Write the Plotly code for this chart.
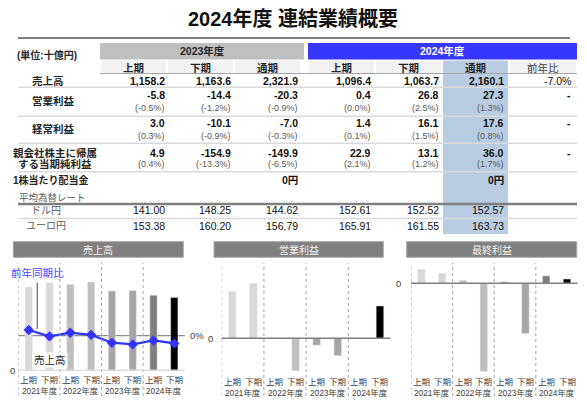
import plotly.graph_objects as go

W, H = 587, 416
FONT = "Liberation Sans, Noto Sans CJK JP, sans-serif"

# ---- table data ----
periods = ["上期", "下期", "通期"]
sales_fy23 = [1158.2, 1163.6, 2321.9]
sales_fy24 = [1096.4, 1063.7, 2160.1]
sales_yoy = "-7.0%"
op_fy23 = [-5.8, -14.4, -20.3]
op_pct_fy23 = [-0.5, -1.2, -0.9]
op_fy24 = [0.4, 26.8, 27.3]
op_pct_fy24 = [0.0, 2.5, 1.3]
ord_fy23 = [3.0, -10.1, -7.0]
ord_pct_fy23 = [0.3, -0.9, -0.3]
ord_fy24 = [1.4, 16.1, 17.6]
ord_pct_fy24 = [0.1, 1.5, 0.8]
net_fy23 = [4.9, -154.9, -149.9]
net_pct_fy23 = [0.4, -13.3, -6.5]
net_fy24 = [22.9, 13.1, 36.0]
net_pct_fy24 = [2.1, 1.2, 1.7]
dividend = ["", "", "0円", "", "", "0円"]
usd_jpy = [141.00, 148.25, 144.62, 152.61, 152.52, 152.57]
eur_jpy = [153.38, 160.20, 156.79, 165.91, 161.55, 163.73]

# ---- chart data (half years FY2021-FY2024) ----
half_labels = ["上期", "下期"] * 4
year_labels = ["2021年度", "2022年度", "2023年度", "2024年度"]
sales_half = [1216, 1277, 1256, 1289, 1158.2, 1163.6, 1096.4, 1063.7]
sales_yoy_pct = [6.3, -0.8, 3.3, 0.9, -7.8, -9.7, -5.3, -8.6]
op_half = [39.0, 45.6, 0.5, -26.9, -5.8, -14.4, 0.4, 26.8]
net_half = [43, 31, 9, -272, 4.9, -154.9, 22.9, 13.1]
bar_colors = ["#d9d9d9", "#d9d9d9", "#bfbfbf", "#bfbfbf",
              "#a6a6a6", "#a6a6a6", "#7f7f7f", "#000000"]


def px(x):
    return x / W


def py(y):
    return 1 - y / H


ann = []
shapes = []


def text(x, y, s, size=10, color="#000", bold=False, anchor="center", **kw):
    if bold:
        s = f"<b>{s}</b>"
    ann.append(dict(x=px(x), y=py(y), xref="paper", yref="paper", text=s,
                    showarrow=False, xanchor=anchor, yanchor="middle",
                    font=dict(size=size, color=color, family=FONT), **kw))


def rect(x0, y0, x1, y1, fill, line=None):
    shapes.append(dict(type="rect", xref="paper", yref="paper", x0=px(x0), x1=px(x1),
                       y0=py(y0), y1=py(y1), fillcolor=fill, layer="below",
                       line=dict(width=1 if line else 0, color=line or fill)))


def hline(x0, x1, y, color, width=1.5):
    shapes.append(dict(type="line", xref="paper", yref="paper", x0=px(x0), x1=px(x1),
                       y0=py(y), y1=py(y), line=dict(color=color, width=width)))


# ---- title ----
text(293, 19, "2024年度 連結業績概要", size=20, color="#111", bold=True)
hline(18, 570, 38, "#7f7f7f", 2)

# ---- table frame ----
col_left = [100, 167, 234, 308, 375, 442, 509]
col_right = [167, 234, 301, 375, 442, 509, 577]
num_right = [166.5, 233, 300, 373, 440.5, 506.5, 573]

rect(100, 43, 304, 59.5, "#bfbfbf")
rect(308, 43, 577, 59.5, "#3636ff")
text(202, 51, "2023年度", size=10.5, color="#262626", bold=True)
text(442, 51, "2024年度", size=10.5, color="#fff", bold=True)
text(47.5, 55, "(単位:十億円)", size=10, color="#262626", bold=True)

for i in range(7):
    rect(col_left[i] + 1, 60.5, col_right[i] - 1, 73, "#f2f2f2")
rect(443, 60.5, 508, 234, "#b8cce4")
for i in range(6):
    text((col_left[i] + col_right[i]) / 2, 67.5, periods[i % 3], size=10.5,
         color="#262626", bold=True)
text((col_left[6] + col_right[6]) / 2, 67.5, "前年比", size=10.5, color="#404040")
hline(100, 577, 73.5, "#a6a6a6", 1.2)

for y in (87.3, 116.3, 143.3, 171.7, 218.5):
    hline(18, 577, y, "#d9d9d9", 1.5)
hline(18, 577, 204, "#7f7f7f", 2.5)


def row_values(vals23, vals24, y, bold=True, size=10.5, color="#111", fmt="{:,.1f}"):
    for i, v in enumerate(list(vals23) + list(vals24)):
        s = v if isinstance(v, str) else fmt.format(v)
        if s:
            text(num_right[i], y, s, size=size, color=color, bold=bold, anchor="right")


def pct_values(p23, p24, y):
    row_values(p23, p24, y, bold=False, size=9, color="#595959", fmt="({:.1f}%)")


LBL = 10.5
text(48, 80.7, "売上高", size=LBL, color="#262626", bold=True)
row_values(sales_fy23, sales_fy24, 80.7)
text(num_right[6], 80.7, sales_yoy, size=10.5, color="#111", anchor="right")

text(53, 101.5, "営業利益", size=LBL, color="#262626", bold=True)
row_values(op_fy23, op_fy24, 95)
pct_values(op_pct_fy23, op_pct_fy24, 108.3)
text(num_right[6], 95, "-", size=10.5, bold=True, anchor="right")

text(53, 129.5, "経常利益", size=LBL, color="#262626", bold=True)
row_values(ord_fy23, ord_fy24, 123)
pct_values(ord_pct_fy23, ord_pct_fy24, 135.7)
text(num_right[6], 123, "-", size=10.5, bold=True, anchor="right")

text(55, 152.7, "親会社株主に帰属", size=LBL, color="#262626", bold=True)
text(55, 164, "する当期純利益", size=LBL, color="#262626", bold=True)
row_values(net_fy23, net_fy24, 152.7)
pct_values(net_pct_fy23, net_pct_fy24, 164)
text(num_right[6], 152.7, "-", size=10.5, bold=True, anchor="right")

text(51, 180, "1株当たり配当金", size=10, color="#262626", bold=True)
row_values(dividend[:3], dividend[3:], 180)

text(52, 197, "平均為替レート", size=9.5, color="#595959")
text(46, 210, "ドル円", size=10, color="#595959")
row_values(usd_jpy[:3], usd_jpy[3:], 210, bold=False, size=10.5, fmt="{:.2f}")
text(46, 226, "ユーロ円", size=10, color="#595959")
row_values(eur_jpy[:3], eur_jpy[3:], 226, bold=False, size=10.5, fmt="{:.2f}")

# ---- charts ----
fig = go.Figure()
xs = list(range(8))
fig.add_trace(go.Bar(x=xs, y=sales_half, marker_color=bar_colors, width=0.35,
                     xaxis="x", yaxis="y"))
fig.add_trace(go.Scatter(x=xs, y=sales_yoy_pct, mode="lines+markers", xaxis="x", yaxis="y2",
                         line=dict(color="#3333ff", width=2.2),
                         marker=dict(symbol="diamond", size=8, color="#3333ff")))
fig.add_trace(go.Bar(x=xs, y=op_half, marker_color=bar_colors, width=0.36,
                     xaxis="x3", yaxis="y3"))
fig.add_trace(go.Bar(x=xs, y=net_half, marker_color=bar_colors, width=0.36,
                     xaxis="x4", yaxis="y4"))

panels = [
    # xaxis, yaxis, x-left, x-right, y-bottom, title, header x0/x1, label y, y range
    ("x", "y", 18.3, 184.7, 370.7, "売上高", 13.3, 183.3, 379.5, [0, 1564]),
    ("x3", "y3", 221.7, 390.5, 372, "営業利益", 214, 383.3, 381.5, [-27.9, 62.4]),
    ("x4", "y4", 411, 577.4, 375, "最終利益", 406.7, 576.7, 381.5, [-282.4, 62.5]),
]

axis_common = dict(showgrid=False, zeroline=False, showticklabels=False, showline=False,
                   fixedrange=True)
layout_axes = {}
for xa, ya, xl, xr, yb, title, h0, h1, ly, yr in panels:
    xkey = "xaxis" if xa == "x" else "xaxis" + xa[1:]
    ykey = "yaxis" if ya == "y" else "yaxis" + ya[1:]
    layout_axes[xkey] = dict(domain=[px(xl), px(xr)], range=[-0.5, 7.5], anchor=ya,
                             **axis_common)
    layout_axes[ykey] = dict(domain=[py(yb), py(263)], range=yr, anchor=xa, **axis_common)
    # header box
    rect(h0, 241.7, h1, 257.3, "#808080", "#a6a6a6")
    text((h0 + h1) / 2, 249.5, title, size=10, color="#f2f2f2")
    # dotted year separators
    for k in range(4):
        shapes.append(dict(type="line", xref=xa, yref="paper", x0=2 * k - 0.5, x1=2 * k - 0.5,
                           y0=py(396), y1=py(263),
                           line=dict(color="#a6a6a6", width=1, dash="dot")))
    # half / year labels
    for i, lab in enumerate(half_labels):
        ann.append(dict(x=i, y=py(ly), xref=xa, yref="paper", text=lab, showarrow=False,
                        yanchor="middle",
                        font=dict(size=8.5, color="#404040", family=FONT)))
    for k, lab in enumerate(year_labels):
        ann.append(dict(x=2 * k + 0.5, y=py(ly + 11), xref=xa, yref="paper", text=lab,
                        showarrow=False, yanchor="middle",
                        font=dict(size=8.3, color="#404040", family=FONT)))

layout_axes["yaxis2"] = dict(domain=[py(370.7), py(263)], range=[-38.9, 80.7],
                             overlaying="y", anchor="x", **axis_common)

# baselines / zero lines
shapes.append(dict(type="line", xref="x domain", yref="y", x0=0, x1=1, y0=0, y1=0,
                   line=dict(color="#d9d9d9", width=2.5)))
shapes.append(dict(type="line", xref="x domain", yref="y2", x0=0, x1=1, y0=0, y1=0,
                   line=dict(color="#8c8c8c", width=1.2), layer="below"))
shapes.append(dict(type="line", xref="x3 domain", yref="y3", x0=0, x1=1, y0=0, y1=0,
                   line=dict(color="#7f7f7f", width=1.5)))
shapes.append(dict(type="line", xref="x4 domain", yref="y4", x0=0, x1=1, y0=0, y1=0,
                   line=dict(color="#7f7f7f", width=1.5)))
# leader line of the yoy caption
shapes.append(dict(type="line", xref="paper", yref="paper", x0=px(37.3), x1=px(37.3),
                   y0=py(282.7), y1=py(329), line=dict(color="#7f7f7f", width=1.5)))

for yref, x in (("y", 8), ("y2", 197), ("y3", 210.7), ("y4", 403.3)):
    ann.append(dict(x=px(x), y=0, xref="paper", yref=yref, yanchor="middle",
                    text="0%" if yref == "y2" else "0", showarrow=False,
                    font=dict(size=9.5, color="#404040", family=FONT)))

text(37.5, 272.7, "前年同期比", size=10.5, color="#4747ff")
text(50, 360, "売上高", size=10.5, color="#262626", bgcolor="#fff")

fig.update_layout(
    width=W, height=H,
    margin=dict(l=0, r=0, t=0, b=0),
    paper_bgcolor="#fff", plot_bgcolor="rgba(0,0,0,0)",
    showlegend=False, barmode="overlay",
    font=dict(family=FONT),
    annotations=ann, shapes=shapes,
    **layout_axes,
)
fig.write_html("out.html", config={"displayModeBar": False},
               post_script="document.body.style.margin='0';")
